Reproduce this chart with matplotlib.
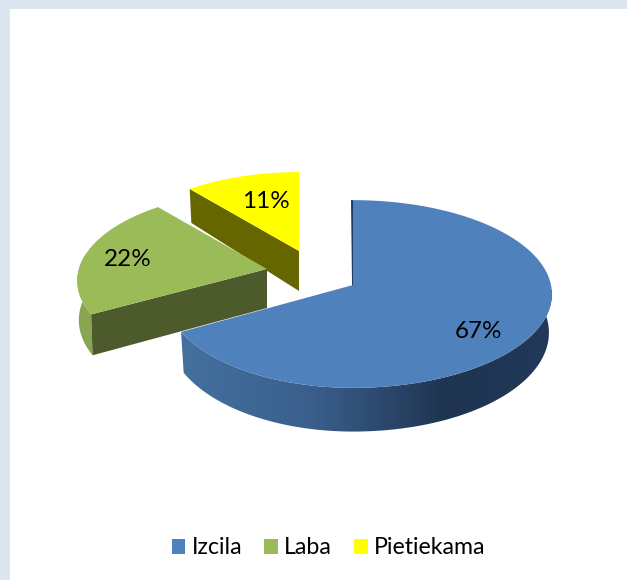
import numpy as np
import matplotlib
matplotlib.use('Agg')
import matplotlib.pyplot as plt
from matplotlib.patches import Polygon, Rectangle, Patch
from matplotlib.colors import LinearSegmentedColormap

plt.rcParams['font.family'] = ['Lato', 'DejaVu Sans']

# data
labels = ['Izcila', 'Laba', 'Pietiekama']
values = [67, 22, 11]
colors = ['#4F81BD', '#9BBB59', '#FFFF00']

# apex of each exploded slice in pixels, its scale and depth of the side
apexes = [(353, 285), (267, 269), (299, 251)]
scales = [1.0, 0.95, 0.93]
left_x = [0.945, 1.0, 1.0]
persp = [0.096, 0.13, 0.096]
shrink = [0.985, 0.992, 0.985]
depths = [(38, 0.15), (39, 0.1), (40, 0.195)]
label_pos = [(478, 331), (128, 259), (266, 201)]

RX, RY = 198, 93


def top_point(theta, i):
    # theta is clockwise from north
    u, v = np.sin(np.radians(theta)), np.cos(np.radians(theta))
    s = scales[i] / (1 + persp[i] * v)
    x = RX * u * s
    x = np.where(u < 0, x * left_x[i], x)
    return np.column_stack([apexes[i][0] + x, apexes[i][1] - RY * v * s])


def low_point(theta, i):
    p = top_point(theta, i)
    v = np.cos(np.radians(theta))
    p[:, 0] = apexes[i][0] + (p[:, 0] - apexes[i][0]) * shrink[i]
    p[:, 1] = p[:, 1] + depths[i][0] * (1 - depths[i][1] * v)
    return p


fig = plt.figure(figsize=(6.27, 5.8), dpi=100, facecolor='#DCE6F1')
ax = fig.add_axes([0, 0, 1, 1])
ax.axis('off')
ax.add_patch(Rectangle((10, 9), 620, 580, facecolor='white', edgecolor='none', zorder=0))

edges = np.cumsum([0] + values) / sum(values) * 360

# yellow slice, only its radial face shows
th = np.linspace(edges[2], edges[3], 40)
a = np.array([apexes[2]], dtype=float)
corner_t = top_point(np.array([edges[2]]), 2)
corner_l = low_point(np.array([edges[2]]), 2)
apex_l = a + [0, depths[2][0]]
ax.add_patch(Polygon(np.vstack([corner_t, a, apex_l, corner_l]), facecolor='#666600', edgecolor='none', zorder=2))
ax.add_patch(Polygon(np.vstack([a, top_point(th, 2)]), facecolor=colors[2], edgecolor='none', zorder=3))

# green slice
th = np.linspace(edges[1], edges[2], 60)
a = np.array([apexes[1]], dtype=float)
rim = np.linspace(edges[1], 280, 30)
ax.add_patch(Polygon(np.vstack([top_point(rim, 1), low_point(rim[::-1], 1)]), facecolor='#8AA54F', edgecolor='none', zorder=4))
corner_t = top_point(np.array([edges[1]]), 1)
corner_l = low_point(np.array([edges[1]]), 1)
apex_l = a + [0, depths[1][0]]
ax.add_patch(Polygon(np.vstack([corner_t, a, apex_l, corner_l]), facecolor='#4C5A2C', edgecolor='none', zorder=5))
ax.add_patch(Polygon(np.vstack([a, top_point(th, 1)]), facecolor=colors[1], edgecolor='none', zorder=6))

# blue slice, side has a gradient from left to right
th = np.linspace(edges[0], edges[1], 200)
a = np.array([apexes[0]], dtype=float)
rim = np.linspace(70, edges[1], 120)
side = Polygon(np.vstack([top_point(rim, 0), low_point(rim[::-1], 0)]), facecolor='none', edgecolor='none', transform=ax.transData)
ax.add_patch(side)
cmap = LinearSegmentedColormap.from_list('side', [(0, '#44709F'), (0.35, '#3A5F8C'), (0.72, '#1E3450'), (1, '#22395A')])
im = ax.imshow(np.linspace(0, 1, 256)[None, :], cmap=cmap, extent=(181, 552, 440, 290), aspect='auto', zorder=7)
im.set_clip_path(side)
ax.plot([352, 353], [201, 285], color='#1F3A5C', lw=1.4, zorder=7)
ax.add_patch(Polygon(np.vstack([a, top_point(th, 0)]), facecolor=colors[0], edgecolor='none', zorder=8))

for (x, y), v in zip(label_pos, values):
    ax.text(x, y, '%d%%' % v, ha='center', va='center', fontsize=17.5, color='black', zorder=10)

handles = [Patch(facecolor=c, edgecolor='none') for c in colors]
ax.legend(handles, labels, loc='center', bbox_to_anchor=(328.5 / 627, 1 - 548 / 580), ncol=3, frameon=False,
          fontsize=16.7, handlelength=0.6, handleheight=0.6, handletextpad=0.26, columnspacing=0.95, borderpad=0, labelspacing=0)

ax.set_xlim(0, 627)
ax.set_ylim(580, 0)
fig.savefig('out.png', dpi=100, facecolor=fig.get_facecolor())
